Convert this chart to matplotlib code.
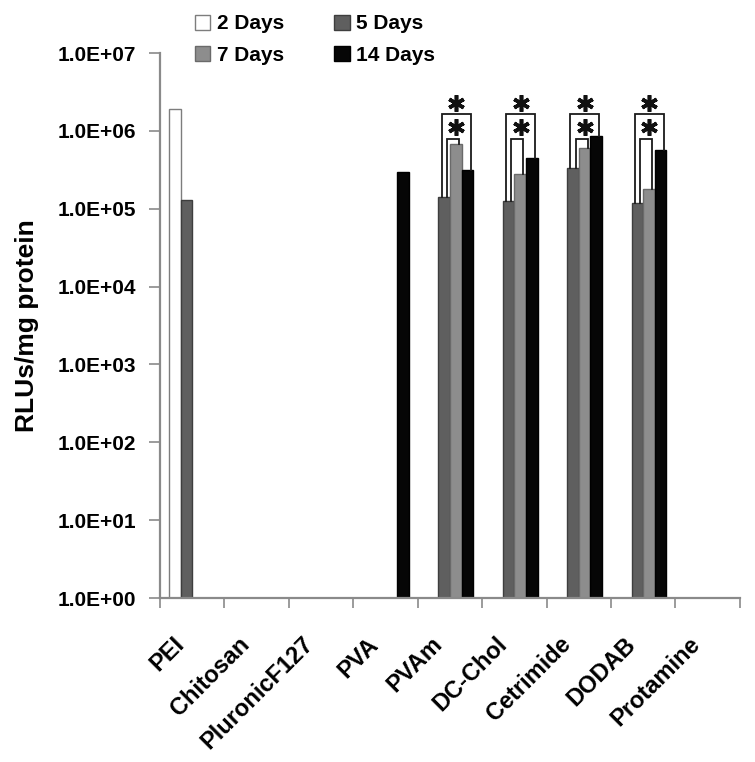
import numpy as np
import matplotlib
matplotlib.use("Agg")
import matplotlib.pyplot as plt
from matplotlib.patches import Patch
from matplotlib.ticker import FuncFormatter, FixedLocator

plt.rcParams["font.family"] = ["Liberation Sans", "DejaVu Sans"]
plt.rcParams["font.weight"] = "bold"

# ---- data (RLUs/mg protein, None = no expression) ----
carriers = ["PEI", "Chitosan", "PluronicF127", "PVA", "PVAm",
            "DC-Chol", "Cetrimide", "DODAB", "Protamine"]
series_names = ["2 Days", "5 Days", "7 Days", "14 Days"]
days_2 = [1.9e6, None, None, None, None, None, None, None, None]
days_5 = [1.3e5, None, None, None, 1.43e5, 1.27e5, 3.3e5, 1.17e5, None]
days_7 = [None, None, None, None, 6.8e5, 2.8e5, 6.1e5, 1.8e5, None]
days_14 = [None, None, None, 3.0e5, 3.1e5, 4.5e5, 8.6e5, 5.7e5, None]
# groups with significance brackets (5 d vs 7 d and 5 d vs 14 d)
sig_groups = ["PVAm", "DC-Chol", "Cetrimide", "DODAB"]
y_ticks = [1e0, 1e1, 1e2, 1e3, 1e4, 1e5, 1e6, 1e7]

FACE = ["white", "#5f5f5f", "#8d8d8d", "#060606"]
EDGE = ["#7d7d7d", "#3e3e3e", "#6a6a6a", "#000000"]
BW = 0.18
OFFS = (np.arange(4) - 1.5) * BW
OUTER_Y, INNER_Y = 1.65e6, 7.8e5
GREY = "#8a8a8a"

fig = plt.figure(figsize=(7.55, 7.62), dpi=100)
ax = fig.add_axes([0.212, 0.2152, 0.768, 0.7152])
ax.set_yscale("log")

x = np.arange(len(carriers))
all_series = [days_2, days_5, days_7, days_14]
for k, vals in enumerate(all_series):
    idx = [i for i, v in enumerate(vals) if v is not None]
    h = [vals[i] for i in idx]
    ax.bar(x[idx] + OFFS[k], h, width=BW, bottom=1, color=FACE[k],
           edgecolor=EDGE[k], linewidth=1.0, zorder=2)

# significance brackets + stars
for name in sig_groups:
    i = carriers.index(name)
    v5, v7, v14 = days_5[i], days_7[i], days_14[i]
    c5, c7, c14 = x[i] + OFFS[1], x[i] + OFFS[2], x[i] + OFFS[3]
    xl, xr = c5 - 0.04, c14 + 0.05
    ax.plot([xl, xl, xr, xr], [v5, OUTER_Y, OUTER_Y, v14], color="#1a1a1a",
            lw=1.3, zorder=3, solid_joinstyle="miter")
    il, ir = c5 + 0.04, c7 + 0.05
    ax.plot([il, il, ir, ir], [v5, INNER_Y, INNER_Y, v7], color="#1a1a1a",
            lw=1.3, zorder=3, solid_joinstyle="miter")
    xs = (xl + xr) / 2
    ax.plot([xs], [OUTER_Y * 1.37], marker=(6, 2, 0), ms=12, mew=2.6,
            color="#111111", zorder=4)
    ax.plot([xs], [INNER_Y * 1.45], marker=(6, 2, 0), ms=12, mew=2.6,
            color="#111111", zorder=4)

ax.set_xlim(-0.5, len(carriers) - 0.5)
ax.set_ylim(1, 1e7)
ax.yaxis.set_major_locator(FixedLocator(y_ticks))
ax.yaxis.set_minor_locator(FixedLocator([]))
ax.yaxis.set_major_formatter(FuncFormatter(lambda v, p: f"{v:.1E}"))
ax.tick_params(axis="y", direction="out", length=8, width=1.2, color=GREY,
               pad=9, labelsize=15)

ax.set_xticks(x - 0.30)
ax.set_xticklabels(carriers, rotation=45, ha="right", va="top",
                   rotation_mode="anchor", fontsize=17)
ax.tick_params(axis="x", which="major", length=0, pad=25)
ax.set_xticks(np.arange(len(carriers) + 1) - 0.5, minor=True)
ax.tick_params(axis="x", which="minor", direction="out", length=7,
               width=1.2, color=GREY)

for s in ("top", "right"):
    ax.spines[s].set_visible(False)
for s in ("left", "bottom"):
    ax.spines[s].set_color(GREY)
    ax.spines[s].set_linewidth(1.6)

ax.set_ylabel("RLUs/mg protein", fontsize=19, fontweight="bold")
ax.yaxis.set_label_coords(-0.208, 0.5)

handles = [Patch(facecolor=FACE[k], edgecolor=EDGE[k], label=series_names[k])
           for k in (0, 2, 1, 3)]
fig.legend(handles=handles, ncol=2, loc="upper left",
           bbox_to_anchor=(0.258, 0.981), frameon=False, fontsize=15,
           handlelength=0.75, handleheight=0.75, handletextpad=0.3,
           columnspacing=2.4, labelspacing=0.6, borderpad=0, borderaxespad=0)

fig.savefig("out.png", dpi=100)
